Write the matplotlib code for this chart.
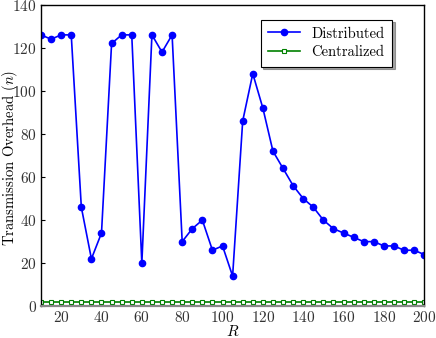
import matplotlib.pyplot as plt
import numpy as np

plt.rcParams['font.family'] = ['cmr10', 'DejaVu Serif']
plt.rcParams['mathtext.fontset'] = 'cm'
plt.rcParams['axes.formatter.use_mathtext'] = True

R = [10, 15, 20, 25, 30, 35, 40, 45, 50, 55, 60, 65, 70, 75, 80, 85, 90, 95, 100,
     105, 110, 115, 120, 125, 130, 135, 140, 145, 150, 155, 160, 165, 170, 175,
     180, 185, 190, 195, 200]
distributed = [126, 124, 126, 126, 46, 22, 34, 122, 126, 126, 20, 126, 118, 126,
               30, 36, 40, 26, 28, 14, 86, 108, 92, 72, 64, 56, 50, 46, 40, 36,
               34, 32, 30, 30, 28, 28, 26, 26, 24]
centralized = [2] * len(R)

fig = plt.figure(figsize=(4.36, 3.38), dpi=100)
ax = fig.add_axes([0.094, 0.094, 0.879, 0.892])

ax.plot(R, distributed, color='blue', marker='o', markersize=4.5, linewidth=1.2,
        label='Distributed')
ax.plot(R, centralized, color='green', marker='s', markersize=3.5,
        markerfacecolor='white', markeredgecolor='green', markeredgewidth=0.8,
        linewidth=1.2, label='Centralized')

ax.set_xlim(10, 200)
ax.set_ylim(0, 140)
ax.set_xticks(np.arange(20, 201, 20))
ax.set_yticks(np.arange(0, 141, 20))
ax.tick_params(direction='in', length=3, labelsize=11, pad=3,
               labelcolor='#333333')
ax.set_xlabel('$R$', fontsize=11)
ax.xaxis.set_label_coords(0.5, -0.06)
ax.xaxis.label.set_va('top')
ax.set_ylabel('Transmission Overhead $(n)$', fontsize=10.5)
ax.yaxis.set_label_coords(-0.056, 0.49)

for s in ax.spines.values():
    s.set_linewidth(1.0)
ax.spines['bottom'].set_color('#888888')
ax.spines['bottom'].set_linewidth(1.6)

leg = ax.legend(loc='upper right', bbox_to_anchor=(0.935, 0.975), fontsize=10.5,
                fancybox=False, shadow=True, framealpha=1, edgecolor='black',
                handlelength=2.2, borderpad=0.5, labelspacing=0.35)
leg.get_frame().set_linewidth(0.8)

fig.savefig('out.png', dpi=100)
